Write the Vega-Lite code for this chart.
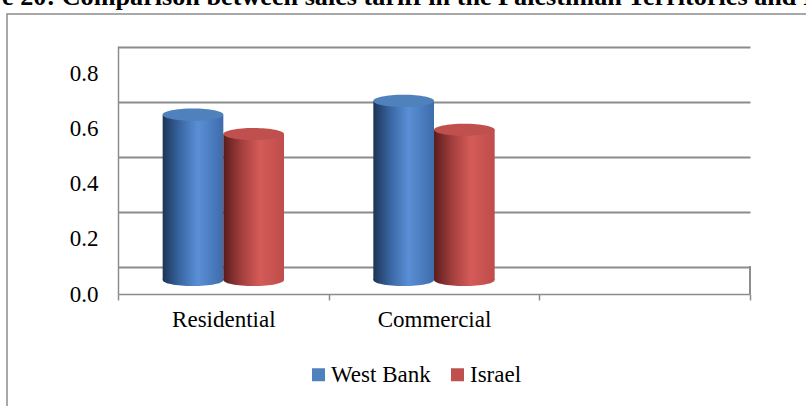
{
  "$schema": "https://vega.github.io/schema/vega-lite/v6.json",
  "width": 632,
  "height": 248,
  "autosize": {"type": "none"},
  "padding": {"left": 118, "top": 46, "right": 56, "bottom": 112},
  "background": "white",
  "title": {
    "text": "Figure 20: Comparison between sales tariff in the Palestinian Territories and Israel",
    "font": "Liberation Serif",
    "fontSize": 26.2,
    "fontWeight": "bold",
    "color": "black",
    "anchor": "start",
    "frame": "group",
    "baseline": "alphabetic",
    "offset": 0,
    "dx": -178,
    "dy": 18
  },
  "config": {"view": {"stroke": null}, "font": "Liberation Serif"},
  "data": {
    "values": [
      {"type": "Residential", "region": "West Bank", "value": 0.6},
      {"type": "Residential", "region": "Israel", "value": 0.53},
      {"type": "Commercial", "region": "West Bank", "value": 0.65},
      {"type": "Commercial", "region": "Israel", "value": 0.545}
    ]
  },
  "resolve": {"scale": {"x": "independent", "y": "independent"}},
  "layer": [
    {
      "data": {"values": [{"frame": 1}]},
      "mark": {"type": "rect", "filled": false, "stroke": "#8c8c8c", "strokeWidth": 1.5, "clip": false, "xOffset": -111, "x2Offset": 60, "yOffset": -32, "y2Offset": 120},
      "encoding": {
        "x": {"datum": 0, "type": "quantitative", "scale": {"domain": [0, 1]}, "axis": null},
        "x2": {"datum": 1},
        "y": {"datum": 1, "type": "quantitative", "scale": {"domain": [0, 1]}, "axis": null},
        "y2": {"datum": 0}
      }
    },
    {
      "encoding": {
        "x": {
          "field": "type",
          "type": "nominal",
          "scale": {"domain": ["Residential", "Commercial", "blank"], "paddingInner": 0, "paddingOuter": 0},
          "axis": {
            "title": null,
            "tickBand": "extent",
            "ticks": true,
            "tickSize": 6,
            "tickColor": "#8c8c8c",
            "tickWidth": 1.5,
            "domainColor": "#8c8c8c",
            "domainWidth": 1.5,
            "labelAngle": 0,
            "labelFont": "Liberation Serif",
            "labelFontSize": 23,
            "labelColor": "black",
            "labelPadding": 8,
            "labelExpr": "datum.value === 'blank' ? '' : datum.value",
            "grid": false
          }
        },
        "xOffset": {
          "field": "region",
          "type": "nominal",
          "scale": {"domain": ["West Bank", "Israel"], "paddingInner": 0, "paddingOuter": 0.736}
        },
        "y": {
          "field": "value",
          "type": "quantitative",
          "scale": {"domain": [0, 0.9], "nice": false},
          "axis": {
            "values": [0, 0.2, 0.4, 0.6, 0.8],
            "format": ".1f",
            "title": null,
            "ticks": false,
            "tickOffset": -27,
            "labelOffset": 27,
            "labelFont": "Liberation Serif",
            "labelFontSize": 23,
            "labelColor": "black",
            "labelPadding": 20,
            "grid": true,
            "gridColor": "#8c8c8c",
            "gridWidth": 2,
            "domainColor": "#8c8c8c",
            "domainWidth": 1.5
          }
        }
      },
      "layer": [
        {
          "mark": {"type": "rule", "stroke": "#8c8c8c", "strokeWidth": 1.5, "y2Offset": -28},
          "encoding": {
            "x": {"datum": "blank", "bandPosition": 1},
            "xOffset": null,
            "y": {"datum": 0, "type": "quantitative"},
            "y2": {"datum": 0}
          }
        },
        {
          "mark": {"type": "point", "shape": "M-1,0A1,0.2,0,1,0,1,0A1,0.2,0,1,0,-1,0Z", "size": 3684, "filled": true, "opacity": 1, "strokeWidth": 0, "yOffset": -14},
          "encoding": {
            "y": {"datum": 0, "type": "quantitative"},
            "color": {
              "condition": {"test": "datum.region === 'West Bank'", "value": {"gradient": "linear", "x1": 0, "x2": 1, "y1": 0, "y2": 0, "stops": [{"offset": 0, "color": "#1c3557"}, {"offset": 0.3, "color": "#3b69a6"}, {"offset": 0.58, "color": "#5a8fd6"}, {"offset": 1, "color": "#3e6cab"}]}},
              "value": {"gradient": "linear", "x1": 0, "x2": 1, "y1": 0, "y2": 0, "stops": [{"offset": 0, "color": "#5a1c1c"}, {"offset": 0.3, "color": "#a33f3e"}, {"offset": 0.6, "color": "#d45b58"}, {"offset": 1, "color": "#bf4d4b"}]}
            }
          }
        },
        {
          "mark": {"type": "bar", "yOffset": -14, "y2Offset": -14},
          "encoding": {
            "color": {
              "condition": {"test": "datum.region === 'West Bank'", "value": {"gradient": "linear", "x1": 0, "x2": 1, "y1": 0, "y2": 0, "stops": [{"offset": 0, "color": "#1c3557"}, {"offset": 0.3, "color": "#3b69a6"}, {"offset": 0.58, "color": "#5a8fd6"}, {"offset": 1, "color": "#3e6cab"}]}},
              "value": {"gradient": "linear", "x1": 0, "x2": 1, "y1": 0, "y2": 0, "stops": [{"offset": 0, "color": "#5a1c1c"}, {"offset": 0.3, "color": "#a33f3e"}, {"offset": 0.6, "color": "#d45b58"}, {"offset": 1, "color": "#bf4d4b"}]}
            }
          }
        },
        {
          "mark": {"type": "point", "shape": "M-1,0A1,0.2,0,1,0,1,0A1,0.2,0,1,0,-1,0Z", "size": 3684, "filled": true, "opacity": 1, "strokeWidth": 0, "yOffset": -14},
          "encoding": {
            "color": {
              "field": "region",
              "type": "nominal",
              "scale": {"domain": ["West Bank", "Israel"], "range": ["#4F81BD", "#C0504D"]},
              "legend": {
                "orient": "none",
                "legendX": 189,
                "legendY": 317,
                "direction": "horizontal",
                "title": null,
                "symbolType": "square",
                "symbolSize": 169,
                "symbolStrokeWidth": 0,
                "symbolOpacity": 1,
                "labelFont": "Liberation Serif",
                "labelFontSize": 23,
                "labelColor": "black",
                "labelOffset": 1,
                "columnPadding": 15
              }
            }
          }
        }
      ]
    }
  ]
}
